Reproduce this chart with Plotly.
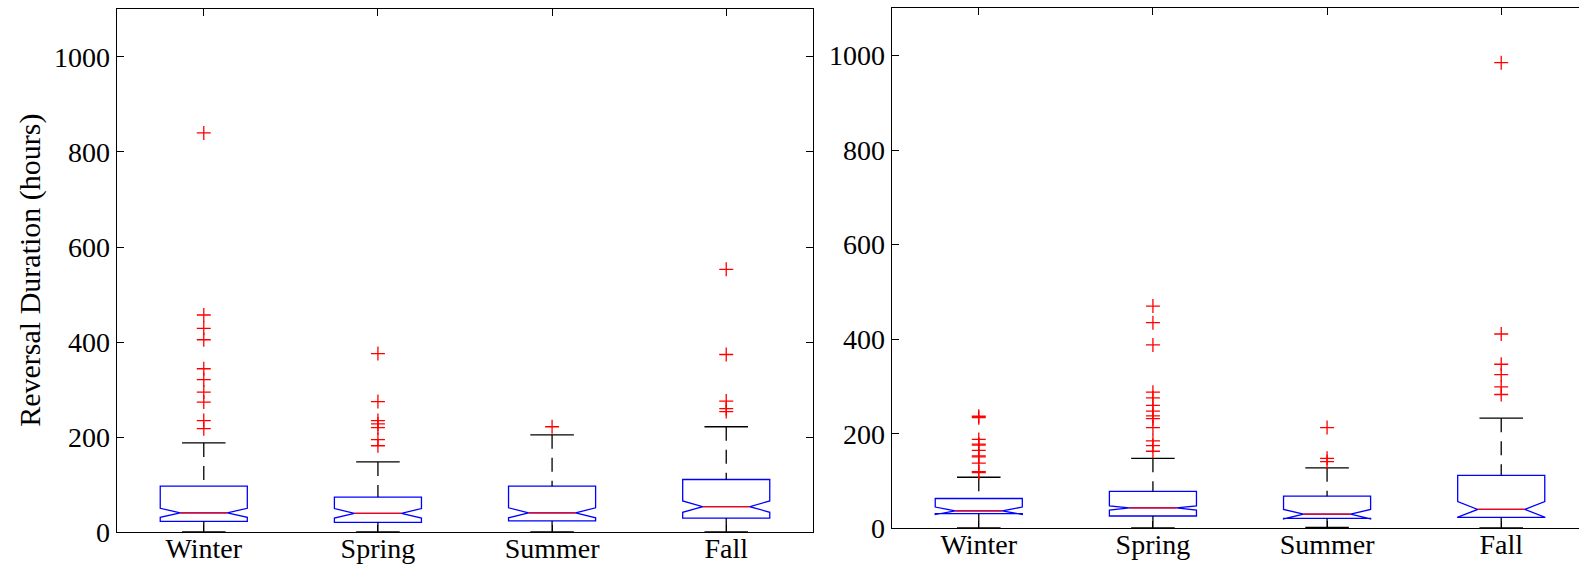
import plotly.graph_objects as go

seasons = ["Winter", "Spring", "Summer", "Fall"]
positions = [1, 2, 3, 4]

# Panel 1 summary statistics (hours)
a_q1 = [23, 21, 24, 30]
a_median = [41, 40, 41, 54]
a_q3 = [97, 74, 97, 111]
a_lower = [1, 1, 1, 1]
a_upper = [188, 148, 205, 222]
a_notch = [9.5, 10, 10.5, 12]
a_outliers = [
    [840, 457, 429, 405, 344, 321, 295, 274, 235, 218],
    [376, 275, 235, 228, 220, 195, 182],
    [222],
    [553, 374, 276, 260, 254],
]

# Panel 2 summary statistics (hours)
b_q1 = [31, 26, 21, 23]
b_median = [37, 43, 30, 40]
b_q3 = [63, 78, 68, 112]
b_lower = [1, 1, 2, 1]
b_upper = [108, 148, 128, 233]
b_notch = [8, 4.5, 10, 16.5]
b_outliers = [
    [237, 234, 188, 178, 176, 165, 153, 151, 138, 120, 118],
    [470, 435, 388, 288, 276, 260, 248, 238, 232, 213, 185, 175, 163],
    [213, 148, 141],
    [985, 411, 347, 325, 299, 283],
]

y_ticks = [0, 200, 400, 600, 800, 1000]
y_range = [0, 1100]

W, H = 1579, 572
FONT = "Liberation Serif, Times New Roman, serif"
BOX_W = 0.5
NOTCH_W = 0.23
CAP_HALF = 0.125
LW = 1.3

fig = go.Figure()


def add_panel(q1, med, q3, lo, hi, notch, outl, xa, ya):
    fig.add_trace(go.Box(
        x=positions, q1=q1, median=med, q3=q3,
        lowerfence=lo, upperfence=hi, notchspan=notch,
        notched=True, notchwidth=NOTCH_W, width=BOX_W,
        showwhiskers=False, boxpoints=False,
        line=dict(color="#0000ff", width=LW),
        fillcolor="rgba(0,0,0,0)",
        xaxis=xa, yaxis=ya, showlegend=False,
    ))
    # dashed whiskers
    wx, wy = [], []
    for p, a, b, c, d in zip(positions, lo, q1, q3, hi):
        wx += [p, p, None, p, p, None]
        wy += [d, c, None, b, a, None]
    fig.add_trace(go.Scatter(
        x=wx, y=wy, mode="lines",
        line=dict(color="black", width=LW, dash="14px,9px"),
        xaxis=xa, yaxis=ya, showlegend=False, hoverinfo="skip",
    ))
    # whisker caps
    cx, cy = [], []
    for p, a, d in zip(positions, lo, hi):
        cx += [p - CAP_HALF, p + CAP_HALF, None, p - CAP_HALF, p + CAP_HALF, None]
        cy += [d, d, None, a, a, None]
    fig.add_trace(go.Scatter(
        x=cx, y=cy, mode="lines",
        line=dict(color="black", width=LW),
        xaxis=xa, yaxis=ya, showlegend=False, hoverinfo="skip",
    ))
    # red median segments across the notch waist
    mh = BOX_W / 2 * (1 - 2 * NOTCH_W)
    mx, my = [], []
    for p, m in zip(positions, med):
        mx += [p - mh, p + mh, None]
        my += [m, m, None]
    fig.add_trace(go.Scatter(
        x=mx, y=my, mode="lines",
        line=dict(color="#ff0000", width=LW),
        xaxis=xa, yaxis=ya, showlegend=False, hoverinfo="skip",
    ))
    # outliers
    ox, oy = [], []
    for p, vals in zip(positions, outl):
        ox += [p] * len(vals)
        oy += vals
    fig.add_trace(go.Scatter(
        x=ox, y=oy, mode="markers",
        marker=dict(symbol="cross-thin", size=10, color="#ff0000",
                    line=dict(color="#ff0000", width=LW)),
        xaxis=xa, yaxis=ya, showlegend=False,
    ))


add_panel(a_q1, a_median, a_q3, a_lower, a_upper, a_notch, a_outliers, "x", "y")
add_panel(b_q1, b_median, b_q3, b_lower, b_upper, b_notch, b_outliers, "x2", "y2")

# pixel geometry of the two axes boxes
L1, R1, T1, B1 = 116.7, 813.3, 9.3, 532.3
L2, T2, B2 = 891.7, 8.3, 528.3
step = (R1 - L1) / 4.0
x2_max = 0.5 + (W - L2) / step

tickfont = dict(family=FONT, size=28, color="black")
common_x = dict(
    tickvals=positions, ticktext=seasons, ticks="inside", ticklen=7,
    tickwidth=LW, tickcolor="black", showline=True, linecolor="black",
    linewidth=LW, mirror="ticks", showgrid=False, zeroline=False,
    tickfont=tickfont, fixedrange=True, automargin=False,
    ticklabelstandoff=-9,
)
common_y = dict(
    range=y_range, tickvals=y_ticks, ticks="inside", ticklen=7,
    tickwidth=LW, tickcolor="black", showline=True, linecolor="black",
    linewidth=LW, showgrid=False, zeroline=False, tickfont=tickfont,
    fixedrange=True, automargin=False,
)

fig.update_layout(
    width=W, height=H,
    margin=dict(l=0, r=0, t=0, b=0, autoexpand=False),
    paper_bgcolor="white", plot_bgcolor="white",
    xaxis=dict(domain=[L1 / W, R1 / W], range=[0.5, 4.5], anchor="y", **common_x),
    yaxis=dict(domain=[1 - B1 / H, 1 - T1 / H], anchor="x", mirror="ticks", **common_y),
    xaxis2=dict(domain=[L2 / W, 1.0], range=[0.5, x2_max], anchor="y2", **common_x),
    yaxis2=dict(domain=[1 - B2 / H, 1 - T2 / H], anchor="x2", mirror=False, **common_y),
    annotations=[dict(
        text="Reversal Duration (hours)", textangle=-90,
        xref="paper", yref="paper", x=30 / W, y=1 - (T1 + B1) / 2 / H,
        xanchor="center", yanchor="middle", showarrow=False,
        font=dict(family=FONT, size=30, color="black"),
    )],
)

fig.write_html("out.html")
